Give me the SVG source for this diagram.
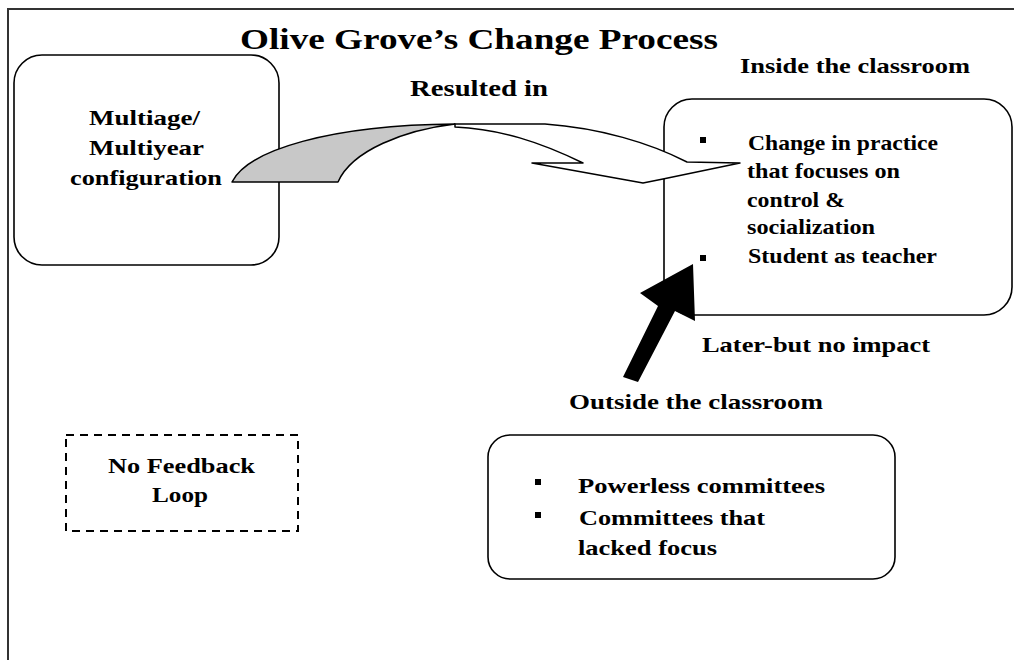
<svg xmlns="http://www.w3.org/2000/svg" width="1014" height="660" viewBox="0 0 1014 660">
<style>
text{font-family:"Liberation Serif","Times New Roman",serif;font-weight:bold;fill:#000}
.box{fill:#fff;stroke:#000;stroke-width:1.6}
.dash{fill:#fff;stroke:#000;stroke-width:2;stroke-dasharray:8 6}
.b{fill:#000}
.t22{font-size:22px}
</style>
<rect width="1014" height="660" fill="#fff"/>
<path d="M8,660 L8,9 L1014,9" fill="none" stroke="#333" stroke-width="2"/>
<text x="240" y="49" font-size="29" textLength="478" lengthAdjust="spacingAndGlyphs">Olive Grove’s Change Process</text>
<text x="410" y="96" font-size="24" textLength="138" lengthAdjust="spacingAndGlyphs">Resulted in</text>
<text x="740" y="73" class="t22" textLength="230" lengthAdjust="spacingAndGlyphs">Inside the classroom</text>
<text x="702" y="352" class="t22" textLength="228" lengthAdjust="spacingAndGlyphs">Later-but no impact</text>
<text x="569" y="409" class="t22" textLength="254" lengthAdjust="spacingAndGlyphs">Outside the classroom</text>
<g id="node-multiage">
<rect class="box" x="14" y="55" width="265" height="210" rx="28"/>
<text x="89" y="125" class="t22" textLength="111" lengthAdjust="spacingAndGlyphs">Multiage/</text>
<text x="89" y="155" class="t22" textLength="115" lengthAdjust="spacingAndGlyphs">Multiyear</text>
<text x="70" y="185" class="t22" textLength="152" lengthAdjust="spacingAndGlyphs">configuration</text>
</g>
<g id="node-inside">
<rect class="box" x="664" y="99" width="348" height="216" rx="28"/>
<rect class="b" x="700" y="137" width="6" height="6"/>
<rect class="b" x="700" y="255" width="6" height="6"/>
<text x="748" y="150" class="t22" textLength="190" lengthAdjust="spacingAndGlyphs">Change in practice</text>
<text x="747" y="178" class="t22" textLength="153" lengthAdjust="spacingAndGlyphs">that focuses on</text>
<text x="747" y="207" class="t22" textLength="98" lengthAdjust="spacingAndGlyphs">control &amp;</text>
<text x="747" y="234" class="t22" textLength="128" lengthAdjust="spacingAndGlyphs">socialization</text>
<text x="748" y="263" class="t22" textLength="189" lengthAdjust="spacingAndGlyphs">Student as teacher</text>
</g>
<g id="node-outside">
<rect class="box" x="488" y="435" width="407" height="144" rx="22"/>
<rect class="b" x="535" y="479" width="6" height="6"/>
<rect class="b" x="535" y="512" width="6" height="6"/>
<text x="578" y="493" class="t22" textLength="247" lengthAdjust="spacingAndGlyphs">Powerless committees</text>
<text x="579" y="525" class="t22" textLength="186" lengthAdjust="spacingAndGlyphs">Committees that</text>
<text x="578" y="555" class="t22" textLength="139" lengthAdjust="spacingAndGlyphs">lacked focus</text>
</g>
<g id="node-nofeedback">
<rect class="dash" x="66" y="435" width="232" height="96"/>
<text x="108" y="473" class="t22" textLength="147" lengthAdjust="spacingAndGlyphs">No Feedback</text>
<text x="152" y="502" class="t22" textLength="56" lengthAdjust="spacingAndGlyphs">Loop</text>
</g>
<g id="connectors">
<path d="M232,182 C248,150 330,125 455,124 C405,130 352,150 338,182 Z" fill="#c8c8c8" stroke="#000" stroke-width="1.5" stroke-linejoin="round"/>
<path d="M455,124 L545,124 C600,128 650,143 687,162 L740,163 L663,179 L643,183 L532,163 L583,163 C540,142 500,129 455,127 Z" fill="#fff" stroke="#000" stroke-width="1.5" stroke-linejoin="round"/>
<polygon points="693,264 640,293 658,306 623,377 638,382 675,311 695,321" fill="#000"/>
</g>
</svg>
